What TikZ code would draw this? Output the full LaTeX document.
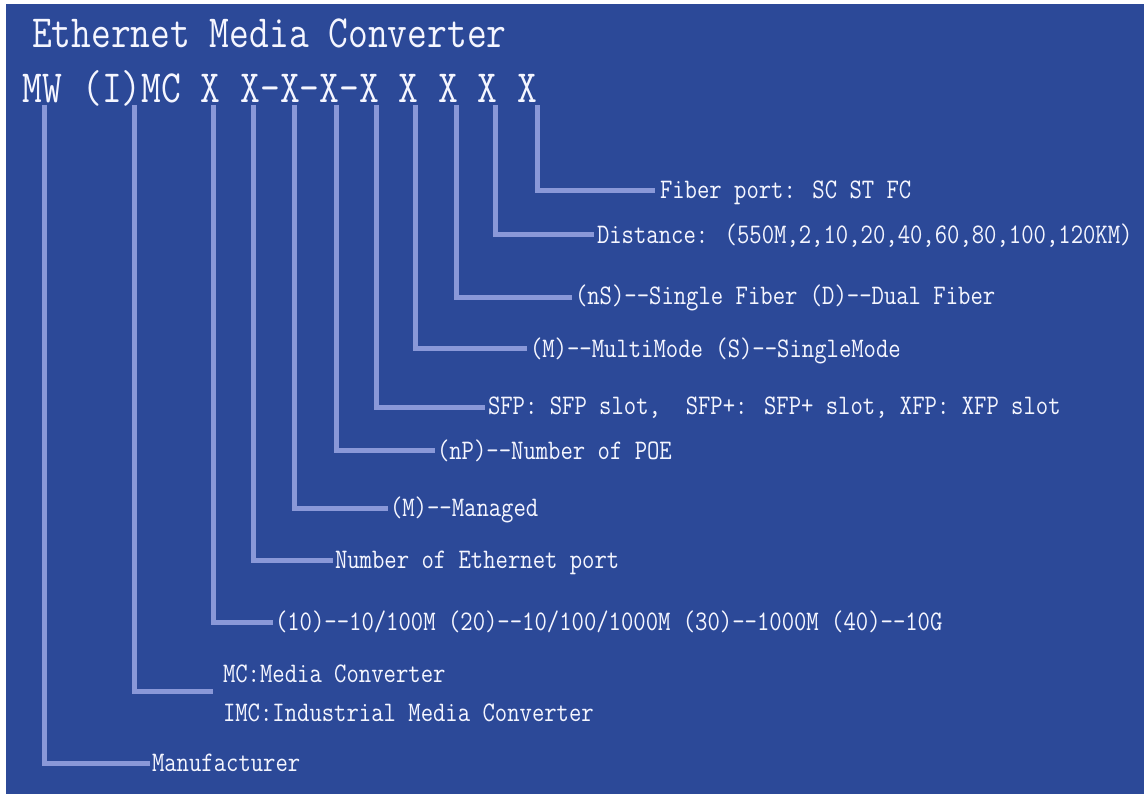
\documentclass[tikz,border=0pt]{standalone}
\usepackage{fontspec}
\usepackage{graphicx}
\definecolor{bg}{RGB}{44,73,152}
\definecolor{ln}{RGB}{138,152,216}
\definecolor{tx}{RGB}{245,246,255}
\newcommand{\bigtt}[1]{\scalebox{1}[1.2]{\fontsize{38.4}{40}\selectfont\ttfamily #1}}
\newcommand{\lbltt}[1]{\scalebox{1}[1.18]{\fontsize{24}{26}\selectfont\ttfamily #1}}
\begin{document}
\begin{tikzpicture}[x=1pt,y=-1pt,
  lbl/.style={anchor=base west,inner sep=0pt,outer sep=0pt,text=tx},
  conn/.style={draw=ln,line width=5pt}]
\useasboundingbox (0,0) rectangle (1148,794);
\fill[white] (0,0) rectangle (1148,794);
\fill[bg] (6,4) rectangle (1144,794);
% headings
\node[lbl] (title) at (32,48) {\bigtt{Ethernet Media Converter}};
\node[lbl] (code) at (23,103) {\bigtt{MW (I)MC X X-X-X-X X X X X}};
% labels
\node[lbl] (lF)   at (660,199) {\lbltt{Fiber port: SC ST FC}};
\node[lbl] (lD)   at (597,244) {\lbltt{Distance: (550M,2,10,20,40,60,80,100,120KM)}};
\node[lbl] (lnS)  at (575,305) {\lbltt{(nS)--Single Fiber (D)--Dual Fiber}};
\node[lbl] (lMM)  at (530,357) {\lbltt{(M)--MultiMode (S)--SingleMode}};
\node[lbl] (lSFP) at (488,414) {\lbltt{SFP: SFP slot,~ SFP+: SFP+ slot, XFP: XFP slot}};
\node[lbl] (lnP)  at (437,459) {\lbltt{(nP)--Number of POE}};
\node[lbl] (lMg)  at (390,516) {\lbltt{(M)--Managed}};
\node[lbl] (lEth) at (335,568) {\lbltt{Number of Ethernet port}};
\node[lbl] (lSp)  at (275,630) {\lbltt{(10)--10/100M (20)--10/100/1000M (30)--1000M (40)--10G}};
\node[lbl] (lMC)  at (223,682) {\lbltt{MC:Media Converter}};
\node[lbl] (lIMC) at (223,721) {\lbltt{IMC:Industrial Media Converter}};
\node[lbl] (lMf)  at (152,771) {\lbltt{Manufacturer}};
% connector tops (under the code letters)
\coordinate (tF)   at (537,105);
\coordinate (tD)   at (495,105);
\coordinate (tnS)  at (456,105);
\coordinate (tMM)  at (415,105);
\coordinate (tSFP) at (376,105);
\coordinate (tnP)  at (336,105);
\coordinate (tMg)  at (294,105);
\coordinate (tEth) at (253,105);
\coordinate (tSp)  at (213,105);
\coordinate (tMC)  at (134,105);
\coordinate (tMf)  at (44,105);
% connector ends (just before each label)
\coordinate (eF)   at (655,191);
\coordinate (eD)   at (594,235);
\coordinate (enS)  at (572,297);
\coordinate (eMM)  at (527,348);
\coordinate (eSFP) at (485,407);
\coordinate (enP)  at (435,450);
\coordinate (eMg)  at (388,508);
\coordinate (eEth) at (333,560);
\coordinate (eSp)  at (273,622);
\coordinate (eMC)  at (213,691);
\coordinate (eMf)  at (150,763);
\foreach \k in {F,D,nS,MM,SFP,nP,Mg,Eth,Sp,MC,Mf}{
  \draw[conn] (t\k) |- (e\k);
}
\end{tikzpicture}
\end{document}
